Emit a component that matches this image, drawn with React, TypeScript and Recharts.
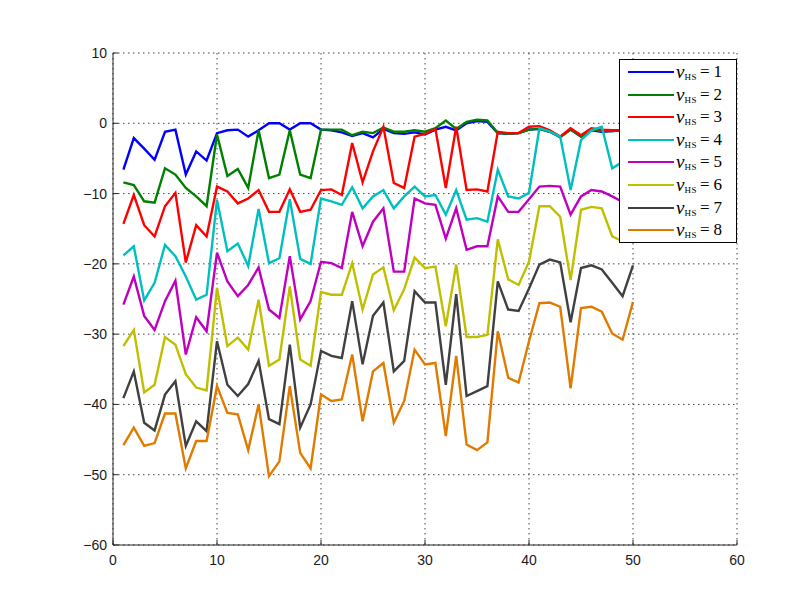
import { LineChart, Line, XAxis, YAxis, CartesianGrid, Legend } from "recharts";

// index along the x axis
const steps = [
  1, 2, 3, 4, 5, 6, 7, 8, 9, 10, 11, 12, 13, 14, 15, 16, 17, 18, 19, 20, 21, 22, 23, 24, 25,
  26, 27, 28, 29, 30, 31, 32, 33, 34, 35, 36, 37, 38, 39, 40, 41, 42, 43, 44, 45, 46, 47, 48, 49, 50,
];

const nu1 = [
  -6.6, -2.1, -3.6, -5.2, -1.2, -0.9, -7.3, -4.0, -5.3, -1.4,
  -1.0, -0.9, -1.9, -1.0, 0.0, 0.0, -0.9, 0.0, 0.0, -0.9,
  -1.0, -1.3, -1.8, -1.4, -2.0, -0.8, -1.4, -1.5, -1.3, -1.6,
  -0.9, -0.5, -1.0, 0.0, 0.3, 0.2, -1.4, -1.5, -1.4, -0.9,
  -0.8, -1.2, -1.9, -0.9, -1.9, -1.0, -1.2, -1.1, -1.0, -1.0,
];
const nu2 = [
  -8.4, -8.8, -11.1, -11.3, -6.4, -7.3, -9.2, -10.4, -11.8, -1.6,
  -7.5, -6.5, -9.2, -1.0, -7.8, -7.3, -1.0, -7.3, -7.8, -0.9,
  -0.9, -0.9, -1.7, -1.2, -1.4, -0.6, -1.2, -1.2, -1.0, -1.2,
  -0.7, 0.4, -0.8, 0.2, 0.5, 0.4, -1.4, -1.5, -1.4, -0.9,
  -0.8, -1.2, -2.0, -0.9, -1.9, -0.9, -1.1, -1.1, -1.0, -1.0,
];
const nu3 = [
  -14.3, -10.2, -14.5, -16.1, -11.8, -9.9, -19.8, -14.5, -16.1, -9.0,
  -9.7, -11.4, -10.7, -9.5, -12.6, -12.6, -9.4, -12.6, -12.3, -9.5,
  -9.4, -10.2, -2.8, -8.4, -4.0, -0.5, -8.5, -9.2, -1.9, -1.5,
  -0.8, -9.2, -0.5, -9.5, -9.4, -9.7, -1.2, -1.4, -1.4, -0.5,
  -0.4, -1.0, -1.9, -0.7, -1.7, -0.7, -0.9, -1.0, -1.0, -1.0,
];
const nu4 = [
  -18.8, -17.5, -25.2, -22.7, -17.3, -18.9, -21.8, -25.1, -24.4, -10.9,
  -18.2, -17.1, -20.3, -12.2, -19.9, -19.2, -10.8, -19.3, -20.0, -10.7,
  -11.1, -11.6, -9.1, -12.1, -10.4, -9.5, -12.1, -10.4, -9.0, -10.4,
  -10.2, -13.0, -9.5, -13.7, -13.5, -14.0, -6.6, -10.4, -10.7, -9.9,
  -0.7, -1.2, -1.9, -9.5, -2.4, -1.0, -0.5, -6.4, -5.5, -5.0,
];
const nu5 = [
  -25.8, -21.8, -27.4, -29.4, -25.3, -22.4, -32.9, -27.6, -29.6, -18.4,
  -22.5, -24.6, -23.0, -20.5, -26.5, -27.7, -18.9, -27.9, -25.3, -19.7,
  -19.9, -20.6, -12.6, -17.5, -14.0, -12.1, -21.1, -21.1, -10.7, -11.4,
  -11.6, -16.4, -12.1, -18.0, -17.5, -17.5, -10.4, -12.6, -12.6, -10.8,
  -9.0, -8.9, -9.0, -13.0, -10.4, -9.5, -9.7, -10.4, -11.2, -12.0,
];
const nu6 = [
  -31.7, -29.4, -38.3, -37.2, -30.4, -31.5, -35.7, -37.6, -38.0, -23.4,
  -31.7, -30.5, -32.2, -25.1, -34.5, -33.6, -23.2, -33.6, -34.5, -24.0,
  -24.4, -24.4, -19.9, -26.5, -21.5, -20.5, -26.6, -23.6, -19.1, -20.6,
  -20.4, -28.9, -20.1, -30.4, -30.4, -30.1, -16.5, -22.2, -23.0, -19.7,
  -11.8, -11.8, -13.3, -22.3, -12.3, -11.9, -12.1, -16.1, -16.8, -16.8,
];
const nu7 = [
  -39.1, -35.3, -42.6, -43.7, -38.6, -36.7, -45.9, -42.4, -43.8, -31.0,
  -37.2, -38.8, -37.1, -33.8, -42.1, -42.8, -31.5, -43.3, -40.0, -32.4,
  -33.1, -33.4, -25.3, -34.3, -27.4, -25.5, -35.3, -33.8, -23.9, -25.5,
  -25.5, -37.2, -24.3, -38.8, -38.1, -37.4, -22.5, -26.5, -26.7, -23.5,
  -20.1, -19.4, -19.8, -28.3, -20.6, -20.2, -20.8, -22.7, -24.6, -20.2,
];
const nu8 = [
  -45.8, -43.3, -45.9, -45.5, -41.3, -41.3, -49.1, -45.2, -45.2, -37.4,
  -41.2, -41.4, -46.5, -40.0, -50.2, -48.1, -37.4, -46.9, -49.1, -38.6,
  -39.5, -39.3, -32.9, -42.4, -35.3, -34.1, -42.6, -39.5, -32.2, -34.3,
  -34.1, -44.5, -33.1, -45.7, -46.5, -45.4, -29.6, -36.2, -36.9, -31.0,
  -25.6, -25.5, -26.1, -37.7, -26.3, -26.1, -26.8, -29.9, -30.8, -25.4,
];

const seriesLabels = ["1", "2", "3", "4", "5", "6", "7", "8"];
const seriesColors = [
  "#0000ff", "#008000", "#ff0000", "#00bfbf",
  "#bf00bf", "#bfbf00", "#404040", "#e07b00",
];
const xTicks = [0, 10, 20, 30, 40, 50, 60];
const yTicks = [-60, -50, -40, -30, -20, -10, 0, 10];

const allSeries = [nu1, nu2, nu3, nu4, nu5, nu6, nu7, nu8];

const data = steps.map((x, i) => {
  const row: Record<string, number> = { x };
  allSeries.forEach((s, k) => {
    row["nu" + (k + 1)] = s[i];
  });
  return row;
});

const axisColor = "#262626";
const tickFont = { fontFamily: "Liberation Sans, Arial, sans-serif", fontSize: 14, fill: "#1a1a1a" };
const minusFmt = (v: number) => String(v).replace("-", "\u2212");

function NuLegend() {
  return (
    <div
      style={{
        position: "relative",
        width: 118,
        height: 184,
        boxSizing: "border-box",
        border: "1px solid #000",
        background: "#fff",
      }}
    >
      {seriesLabels.map((n, i) => (
        <div
          key={n}
          style={{
            position: "absolute",
            left: 8,
            top: 2 + i * 22.6,
            height: 20,
            display: "flex",
            alignItems: "center",
            whiteSpace: "nowrap",
            fontFamily: "Liberation Serif, Times New Roman, serif",
            color: "#000",
          }}
        >
          <span style={{ display: "inline-block", width: 46, borderTop: `2.5px solid ${seriesColors[i]}` }} />
          <span style={{ fontSize: 19, fontStyle: "italic", marginLeft: 2, lineHeight: "20px" }}>ν</span>
          <span style={{ fontSize: 9, position: "relative", top: 5, letterSpacing: 0.5 }}>HS</span>
          <span style={{ fontSize: 17, marginLeft: 3, lineHeight: "20px" }}>=</span>
          <span style={{ fontSize: 17, marginLeft: 4, lineHeight: "20px" }}>{n}</span>
        </div>
      ))}
    </div>
  );
}

export default function App() {
  return (
    <div style={{ position: "absolute", left: 0, top: 0, width: 802, height: 606, background: "#fff" }}>
      <LineChart width={802} height={606} data={data} margin={{ top: 53, right: 65, bottom: 0, left: 0 }}>
        <CartesianGrid stroke="#444" strokeDasharray="1.5 3.5" />
        <XAxis
          dataKey="x"
          type="number"
          domain={[0, 60]}
          ticks={xTicks}
          height={61}
          tickSize={-5}
          tickMargin={15}
          stroke={axisColor}
          tick={tickFont}
        />
        <XAxis
          xAxisId="top"
          orientation="top"
          dataKey="x"
          type="number"
          domain={[0, 60]}
          ticks={xTicks}
          height={0}
          tickSize={-5}
          tickFormatter={() => ""}
          stroke={axisColor}
        />
        <YAxis
          type="number"
          domain={[-60, 10]}
          ticks={yTicks}
          width={113}
          tickSize={-5}
          tickMargin={11}
          stroke={axisColor}
          tick={tickFont}
          tickFormatter={minusFmt}
        />
        <YAxis
          yAxisId="right"
          orientation="right"
          type="number"
          domain={[-60, 10]}
          ticks={yTicks}
          width={0}
          tickSize={-5}
          tickFormatter={() => ""}
          stroke={axisColor}
        />
        {allSeries.map((_, k) => (
          <Line
            key={k}
            type="linear"
            dataKey={"nu" + (k + 1)}
            name={seriesLabels[k]}
            stroke={seriesColors[k]}
            strokeWidth={2.4}
            dot={false}
            isAnimationActive={false}
          />
        ))}
        <Legend
          layout="horizontal"
          verticalAlign="middle"
          align="center"
          wrapperStyle={{ left: 619, top: 59, width: 118, height: 184 }}
          content={() => <NuLegend />}
        />
      </LineChart>
    </div>
  );
}
